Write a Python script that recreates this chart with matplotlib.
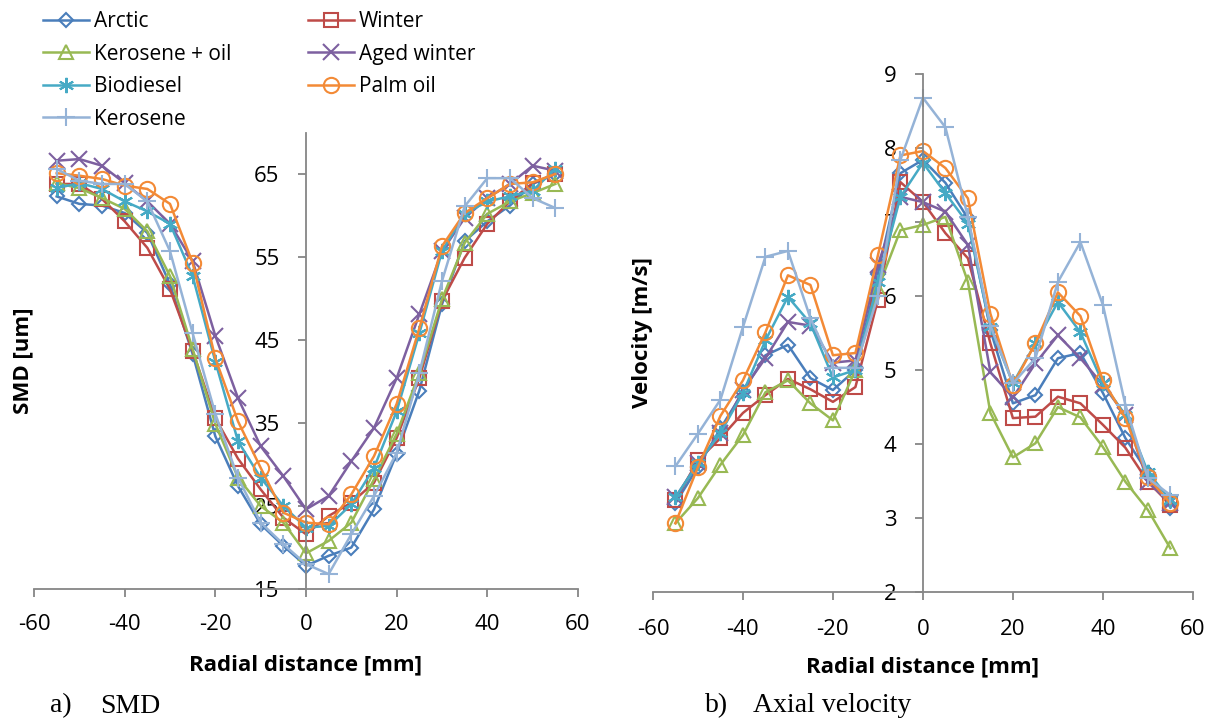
import matplotlib.pyplot as plt

# radial positions [mm]
r = [-55, -50, -45, -40, -35, -30, -25, -20, -15, -10, -5, 0,
     5, 10, 15, 20, 25, 30, 35, 40, 45, 50, 55]

# SMD [um]
smd_arctic = [62.3, 61.4, 61.2, 60.3, 57.9, 51.7, 43.3, 33.4, 27.4, 22.8, 20.2, 17.8,
              19.0, 20.0, 24.6, 31.3, 38.9, 49.3, 56.9, 59.3, 61.2, 63.8, 65.0]
smd_winter = [63.8, 63.8, 62.0, 59.3, 56.1, 51.1, 43.7, 35.6, 30.7, 27.0, 23.6, 21.6,
              23.8, 25.4, 27.8, 33.2, 40.4, 49.7, 54.9, 59.0, 61.7, 63.9, 65.0]
smd_kero_oil = [63.9, 63.3, 62.1, 60.8, 58.1, 52.7, 43.9, 34.9, 28.4, 25.0, 23.0, 19.3,
                20.8, 23.0, 28.2, 33.7, 41.0, 49.9, 56.7, 60.2, 61.7, 62.7, 63.8]
smd_aged = [66.6, 66.8, 66.0, 63.9, 61.7, 59.0, 54.5, 45.5, 38.0, 32.2, 28.6, 24.6,
            26.2, 30.4, 34.4, 40.4, 48.1, 55.7, 59.7, 62.1, 63.8, 66.0, 65.4]
smd_biodiesel = [63.3, 63.9, 63.2, 61.7, 60.5, 59.0, 52.7, 42.4, 32.8, 28.4, 25.0, 22.4,
                 22.6, 25.2, 29.6, 36.4, 45.8, 55.7, 60.2, 61.7, 62.3, 63.0, 65.6]
smd_palm = [65.1, 64.8, 64.4, 63.6, 63.2, 61.4, 54.3, 42.8, 35.2, 29.6, 24.2, 23.0,
            22.8, 26.4, 31.0, 37.3, 46.4, 56.3, 60.3, 62.1, 63.8, 64.0, 65.0]
smd_kerosene = [65.6, 64.2, 63.8, 63.8, 61.7, 55.7, 45.8, 36.1, 28.4, 23.0, 20.4, 18.0,
                16.8, 21.6, 26.2, 31.4, 41.0, 52.1, 61.1, 64.5, 64.5, 62.1, 60.9]

# axial velocity [m/s]
vel_arctic = [3.20, 3.69, 4.21, 4.70, 5.20, 5.34, 4.89, 4.73, 5.00, 6.30, 7.66, 7.84,
              7.53, 7.05, 5.54, 4.55, 4.66, 5.16, 5.23, 4.69, 4.08, 3.61, 3.14]
vel_winter = [3.24, 3.78, 4.08, 4.42, 4.66, 4.88, 4.74, 4.57, 4.77, 5.95, 7.54, 7.27,
              6.85, 6.51, 5.36, 4.35, 4.37, 4.64, 4.55, 4.26, 3.95, 3.49, 3.18]
vel_kero_oil = [2.93, 3.27, 3.72, 4.12, 4.70, 4.86, 4.55, 4.32, 5.00, 6.10, 6.89, 6.96,
                7.07, 6.19, 4.42, 3.82, 4.01, 4.50, 4.36, 3.96, 3.49, 3.11, 2.59]
vel_aged = [3.28, 3.74, 4.15, 4.73, 5.16, 5.65, 5.60, 5.10, 5.13, 6.42, 7.34, 7.27,
            7.14, 6.69, 4.97, 4.63, 5.09, 5.47, 5.16, 4.80, 4.39, 3.49, 3.20]
vel_biodiesel = [3.28, 3.74, 4.15, 4.69, 5.40, 5.99, 5.63, 4.90, 5.00, 6.19, 7.34, 7.80,
                 7.39, 6.98, 5.58, 4.82, 5.36, 5.92, 5.51, 4.82, 4.39, 3.62, 3.24]
vel_palm = [2.93, 3.69, 4.38, 4.86, 5.51, 6.28, 6.15, 5.20, 5.23, 6.55, 7.90, 7.96,
            7.73, 7.32, 5.76, 4.80, 5.36, 6.05, 5.73, 4.86, 4.35, 3.55, 3.20]
vel_kerosene = [3.70, 4.14, 4.60, 5.58, 6.53, 6.61, 5.70, 5.03, 5.03, 6.00, 7.84, 8.68,
                8.28, 7.07, 5.60, 4.82, 5.16, 6.19, 6.73, 5.88, 4.53, 3.54, 3.31]

names = ['Arctic', 'Winter', 'Kerosene + oil', 'Aged winter', 'Biodiesel', 'Palm oil', 'Kerosene']
colors = ['#4A7EBB', '#BE4B48', '#98B954', '#7D60A0', '#46AAC5', '#F38A36', '#95B3D7']
markers = ['D', 's', '^', 'x', (6, 2, 0), 'o', '+']
msizes = [7, 10, 10, 11, 11, 11, 13]

smd_data = [smd_arctic, smd_winter, smd_kero_oil, smd_aged, smd_biodiesel, smd_palm, smd_kerosene]
vel_data = [vel_arctic, vel_winter, vel_kero_oil, vel_aged, vel_biodiesel, vel_palm, vel_kerosene]

plt.rcParams['font.family'] = ['Open Sans', 'DejaVu Sans']
plt.rcParams['axes.unicode_minus'] = False

fig = plt.figure(figsize=(12.15, 7.19), dpi=100)
ax1 = fig.add_axes([0.0280, 0.1808, 0.4477, 0.6349])
ax2 = fig.add_axes([0.5374, 0.1766, 0.4444, 0.7204])


def draw(ax, data, ylim, yticks, ylabel, xpad, labelpad):
    lines = []
    for vals, name, c, m, ms in zip(data, names, colors, markers, msizes):
        ln, = ax.plot(r, vals, color=c, lw=1.8, marker=m, ms=ms, mfc='none',
                      mec=c, mew=1.5, label=name)
        lines.append(ln)
    ax.set_xlim(-60, 60)
    ax.set_ylim(*ylim)
    ax.set_xticks(range(-60, 61, 20))
    ax.set_yticks(yticks)
    for s in ['top', 'right']:
        ax.spines[s].set_visible(False)
    ax.spines['left'].set_position(('data', 0))
    for s in ['left', 'bottom']:
        ax.spines[s].set_color('#868686')
        ax.spines[s].set_linewidth(1.3)
    ax.tick_params(direction='out', length=6, width=1.3, color='#868686', labelsize=16)
    ax.tick_params(axis='y', pad=13)
    ax.tick_params(axis='x', pad=xpad)
    ax.set_xlabel('Radial distance [mm]', fontsize=16, fontweight='bold', labelpad=labelpad)
    ax.set_ylabel(ylabel, fontsize=16, fontweight='bold')
    ax.patch.set_alpha(0)
    return lines


lines = draw(ax1, smd_data, (15, 70), range(15, 66, 10), 'SMD [um]', 12, 14)
ax1.yaxis.set_label_coords(-0.002, 0.5)
draw(ax2, vel_data, (2, 9), range(2, 10), 'Velocity [m/s]', 13.5, 12)
ax2.yaxis.set_label_coords(0.0, 0.5)

order = [0, 2, 4, 6, 1, 3, 5]
fig.legend([lines[i] for i in order], [names[i] for i in order], ncol=2,
           loc='upper left', bbox_to_anchor=(0.0288, 0.996), frameon=False,
           borderaxespad=0, fontsize=15, handlelength=2.2, columnspacing=3.65,
           labelspacing=0.55, handletextpad=0.25)

cap = dict(family='Liberation Serif', fontsize=20, va='baseline')
fig.text(50 / 1215, 0.009, 'a)', **cap)
fig.text(100 / 1215, 0.009, 'SMD', **cap)
fig.text(705 / 1215, 0.010, 'b)', **cap)
fig.text(753 / 1215, 0.010, 'Axial velocity', **cap)

fig.savefig('out.png', dpi=100)
